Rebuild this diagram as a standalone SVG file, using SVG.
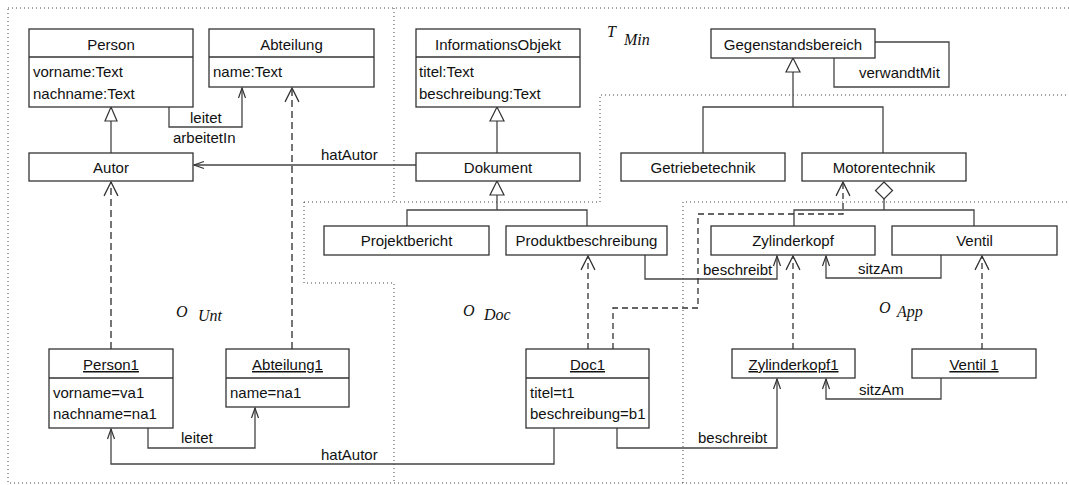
<svg xmlns="http://www.w3.org/2000/svg" width="1069" height="485" viewBox="0 0 1069 485">
  <style>
    .box { fill: #fff; stroke: #333; stroke-width: 1.3; }
    .sep { stroke: #333; stroke-width: 1.3; }
    .t { font-family: "Liberation Sans", Arial, sans-serif; font-size: 15px; fill: #111; }
    .c { text-anchor: middle; }
    .u { text-decoration: underline; }
    .m { font-family: "Liberation Serif", "Times New Roman", serif; font-style: italic; font-size: 16px; fill: #111; }
    .zone { fill: none; stroke: #444; stroke-width: 1; stroke-dasharray: 1 3; }
    .line { fill: none; stroke: #444; stroke-width: 1.3; }
    .assoc { fill: none; stroke: #444; stroke-width: 1.3; marker-end: url(#open); }
    .dep { fill: none; stroke: #333; stroke-width: 1.3; stroke-dasharray: 6 4; marker-end: url(#openBig); }
    .dep.grey { stroke: #666; stroke-width: 1.8; stroke-dasharray: 7 4; }
    .head { fill: #fff; stroke: #333; stroke-width: 1.2; }
  </style>
  <defs>
    <marker id="open" markerUnits="userSpaceOnUse" markerWidth="14" markerHeight="10" viewBox="-11 -5 12 10" refX="0" refY="0" orient="auto">
      <path d="M-10,-3.5 L0,0 L-10,3.5" fill="none" stroke="#333" stroke-width="1.2"/>
    </marker>
    <marker id="openBig" markerUnits="userSpaceOnUse" markerWidth="16" markerHeight="18" viewBox="-14 -8 15 16" refX="0" refY="0" orient="auto">
      <path d="M-13,-6.5 L0,0 L-13,6.5" fill="none" stroke="#333" stroke-width="1.2"/>
    </marker>
  </defs>

  <rect width="1069" height="485" fill="#fff"/>

  <!-- model level boundaries -->
  <g id="zones">
    <rect class="zone" x="8" y="8" width="1070" height="475"/>
    <path class="zone" d="M394,8 V202 M304,202 H600 V95 H1069"/>
    <path class="zone" d="M304,202 V283 H394 V483"/>
    <path class="zone" d="M683,483 V202 H1069"/>
    <text class="m" x="607" y="37">T</text>
    <text class="m" x="624" y="45">Min</text>
    <text class="m" x="176" y="317">O</text>
    <text class="m" x="198" y="321">Unt</text>
    <text class="m" x="463" y="316">O</text>
    <text class="m" x="484" y="320">Doc</text>
    <text class="m" x="879" y="313">O</text>
    <text class="m" x="897" y="317">App</text>
  </g>

  <!-- connectors -->
  <g id="connectors">
    <!-- generalisations -->
    <line class="line" x1="111" y1="121" x2="111" y2="153"/>
    <polygon class="head" points="111,107 105,121 117,121"/>
    <line class="line" x1="497" y1="121" x2="497" y2="153"/>
    <polygon class="head" points="497,107 490,121 504,121"/>
    <line class="line" x1="497" y1="195" x2="497" y2="210"/>
    <path class="line" d="M407,226 V210 H587 V226"/>
    <polygon class="head" points="497,181 490,195 504,195"/>
    <line class="line" x1="793" y1="72" x2="793" y2="107"/>
    <path class="line" d="M703,153 V107 H883 V153"/>
    <polygon class="head" points="793,58 786,72 800,72"/>
    <!-- aggregation -->
    <line class="line" x1="884" y1="199" x2="884" y2="210"/>
    <path class="line" d="M794,226 V210 H974 V226"/>
    <polygon class="head" points="884,182 892.5,190.5 884,199 875.5,190.5"/>
    <!-- class associations -->
    <path class="assoc" d="M169,107 V127 H242 V88"/>
    <path class="assoc" d="M416,165 H194"/>
    <path class="line" d="M875,42 H949 V87 H834 V58"/>
    <path class="assoc" d="M645,255 V279 H777 V256"/>
    <path class="assoc" d="M941,255 V278 H826 V256"/>
    <!-- instance-of -->
    <path class="dep grey" d="M111,349 V182"/>
    <path class="dep grey" d="M292,349 V88"/>
    <path class="dep" d="M588,349 V256"/>
    <path class="dep" d="M613,349 V308 H698 V214 H843 V182"/>
    <path class="dep" d="M793,349 V256"/>
    <path class="dep" d="M982,349 V256"/>
    <!-- object links -->
    <path class="assoc" d="M148,428 V448 H255 V408"/>
    <path class="assoc" d="M554,428 V464 H111 V429"/>
    <path class="assoc" d="M617,428 V448 H777 V379"/>
    <path class="assoc" d="M941,378 V399 H826 V379"/>
    <!-- labels -->
    <text class="t" x="190" y="123">leitet</text>
    <text class="t" x="173" y="143">arbeitetIn</text>
    <text class="t" x="321" y="160">hatAutor</text>
    <text class="t" x="859" y="78">verwandtMit</text>
    <text class="t" x="703" y="275">beschreibt</text>
    <text class="t" x="858" y="274">sitzAm</text>
    <text class="t" x="181" y="443">leitet</text>
    <text class="t" x="321" y="460">hatAutor</text>
    <text class="t" x="698" y="443">beschreibt</text>
    <text class="t" x="859" y="395">sitzAm</text>
  </g>

  <!-- classes -->
  <g id="person">
    <rect class="box" x="29" y="29" width="164" height="78"/>
    <line class="sep" x1="29" y1="57" x2="193" y2="57"/>
    <text class="t c" x="111" y="50">Person</text>
    <text class="t" x="33" y="77">vorname:Text</text>
    <text class="t" x="33" y="99">nachname:Text</text>
  </g>
  <g id="abteilung">
    <rect class="box" x="209" y="29" width="165" height="58"/>
    <line class="sep" x1="209" y1="57" x2="374" y2="57"/>
    <text class="t c" x="291.5" y="50">Abteilung</text>
    <text class="t" x="213" y="77">name:Text</text>
  </g>
  <g id="autor">
    <rect class="box" x="29" y="153" width="164" height="28"/>
    <text class="t c" x="111" y="173">Autor</text>
  </g>
  <g id="informationsobjekt">
    <rect class="box" x="416" y="29" width="164" height="78"/>
    <line class="sep" x1="416" y1="57" x2="580" y2="57"/>
    <text class="t c" x="498" y="50">InformationsObjekt</text>
    <text class="t" x="419" y="77">titel:Text</text>
    <text class="t" x="419" y="99">beschreibung:Text</text>
  </g>
  <g id="dokument">
    <rect class="box" x="416" y="153" width="164" height="28"/>
    <text class="t c" x="498" y="173">Dokument</text>
  </g>
  <g id="projektbericht">
    <rect class="box" x="324" y="226" width="165" height="29"/>
    <text class="t c" x="406.5" y="246">Projektbericht</text>
  </g>
  <g id="produktbeschreibung">
    <rect class="box" x="506" y="226" width="161" height="29"/>
    <text class="t c" x="586.5" y="246">Produktbeschreibung</text>
  </g>
  <g id="gegenstandsbereich">
    <rect class="box" x="711" y="29" width="164" height="29"/>
    <text class="t c" x="793" y="50">Gegenstandsbereich</text>
  </g>
  <g id="getriebetechnik">
    <rect class="box" x="621" y="153" width="164" height="28"/>
    <text class="t c" x="703" y="173">Getriebetechnik</text>
  </g>
  <g id="motorentechnik">
    <rect class="box" x="802" y="153" width="164" height="28"/>
    <text class="t c" x="884" y="173">Motorentechnik</text>
  </g>
  <g id="zylinderkopf">
    <rect class="box" x="711" y="226" width="164" height="29"/>
    <text class="t c" x="793" y="246">Zylinderkopf</text>
  </g>
  <g id="ventil">
    <rect class="box" x="892" y="226" width="165" height="29"/>
    <text class="t c" x="974.5" y="246">Ventil</text>
  </g>

  <!-- objects -->
  <g id="person1">
    <rect class="box" x="49" y="349" width="124" height="79"/>
    <line class="sep" x1="49" y1="378" x2="173" y2="378"/>
    <text class="t c u" x="111" y="370">Person1</text>
    <text class="t" x="53" y="398">vorname=va1</text>
    <text class="t" x="53" y="419">nachname=na1</text>
  </g>
  <g id="abteilung1">
    <rect class="box" x="226" y="349" width="123" height="58"/>
    <line class="sep" x1="226" y1="378" x2="349" y2="378"/>
    <text class="t c u" x="287.5" y="370">Abteilung1</text>
    <text class="t" x="230" y="398">name=na1</text>
  </g>
  <g id="doc1">
    <rect class="box" x="526" y="349" width="123" height="79"/>
    <line class="sep" x1="526" y1="378" x2="649" y2="378"/>
    <text class="t c u" x="587.5" y="370">Doc1</text>
    <text class="t" x="530" y="398">titel=t1</text>
    <text class="t" x="530" y="419">beschreibung=b1</text>
  </g>
  <g id="zylinderkopf1">
    <rect class="box" x="732" y="349" width="123" height="29"/>
    <text class="t c u" x="793.5" y="370">Zylinderkopf1</text>
  </g>
  <g id="ventil1">
    <rect class="box" x="912" y="349" width="124" height="29"/>
    <text class="t c u" x="974" y="370">Ventil 1</text>
  </g>
</svg>
